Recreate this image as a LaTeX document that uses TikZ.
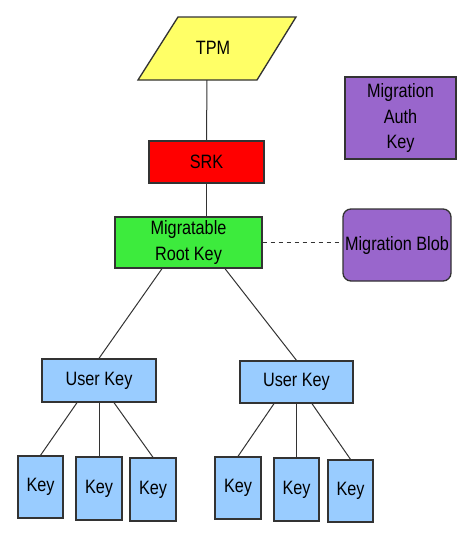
\documentclass[tikz,border=0pt]{standalone}
\usepackage{fontspec}
\setmainfont{Liberation Sans}[FakeStretch=0.84]
\usetikzlibrary{calc}
\definecolor{tpmyellow}{HTML}{FFFF66}
\definecolor{srkred}{HTML}{FF0000}
\definecolor{rootgreen}{HTML}{3DEB3D}
\definecolor{migpurple}{HTML}{9966CC}
\definecolor{keyblue}{HTML}{99CCFF}
\definecolor{edgegray}{HTML}{333333}
\def\pxu{0.75pt}
\tikzset{
  box/.style={draw=edgegray,line width=1pt,inner sep=0pt,align=center},
  keybox/.style={box,fill=keyblue,minimum width=45*\pxu,minimum height=62*\pxu},
  link/.style={draw=black!80,line width=0.75pt}
}
\tikzstyle{every node}=[font=\fontsize{14.5}{19}\selectfont]

\begin{document}
\begin{tikzpicture}[x=0.75pt,y=-0.75pt]
    \useasboundingbox (0,0) rectangle (466,537);
    \draw [box,fill=tpmyellow] (178,17) -- (296,17) -- (257,80) -- (138,80) -- cycle;
    \node (tpm) at (213,48) {TPM};
    \coordinate (tpmb) at (207,80);
    \node [box,fill=srkred,minimum width=115*\pxu,minimum height=42*\pxu] (srk) at (206.5,162) {SRK};
    \node [box,fill=rootgreen,minimum width=147*\pxu,minimum height=51*\pxu] (mrk) at (188.5,242.5) {Migratable\\Root Key};
    \node [box,fill=migpurple,rounded corners=6pt,minimum width=108*\pxu,minimum height=72*\pxu] (blob) at (397,245) {Migration Blob};
    \node [box,fill=migpurple,minimum width=111*\pxu,minimum height=82*\pxu] (auth) at (400.5,118) {Migration\\Auth\\Key};
    \node [box,fill=keyblue,minimum width=114*\pxu,minimum height=43*\pxu] (uk1) at (99,380.5) {User Key};
    \node [box,fill=keyblue,minimum width=113*\pxu,minimum height=42*\pxu] (uk2) at (296.5,382) {User Key};
    \node [keybox] (k1) at (40.5,487) {Key};
    \node [keybox,minimum width=46*\pxu,minimum height=63*\pxu] (k2) at (99,488.5) {Key};
    \node [keybox,minimum width=46*\pxu,minimum height=63*\pxu] (k3) at (153,489.5) {Key};
    \node [keybox,minimum width=46*\pxu] (k4) at (238,488) {Key};
    \node [keybox,minimum height=63*\pxu] (k5) at (296.5,489.5) {Key};
    \node [keybox] (k6) at (350.5,491) {Key};
    \draw [link] (tpmb) -- (srk.north);
    \draw [link] (srk.south) -- (srk.south |- mrk.north);
    \draw [link,dashed] (mrk.east) -- (mrk.east -| blob.west);
    \draw [link] ($(mrk.south)+(-26.5,0)$) -- (uk1.north);
    \draw [link] ($(mrk.south)+(36.5,0)$) -- (uk2.north);
    \draw [link] ($(uk1.south)+(-22,0)$) -- (k1.north);
    \draw [link] (k2.north |- uk1.south) -- (k2.north);
    \draw [link] ($(uk1.south)+(15,0)$) -- (k3.north);
    \draw [link] ($(uk2.south)+(-22.5,0)$) -- (k4.north);
    \draw [link] (k5.north |- uk2.south) -- (k5.north);
    \draw [link] ($(uk2.south)+(15.5,0)$) -- (k6.north);
\end{tikzpicture}
\end{document}
